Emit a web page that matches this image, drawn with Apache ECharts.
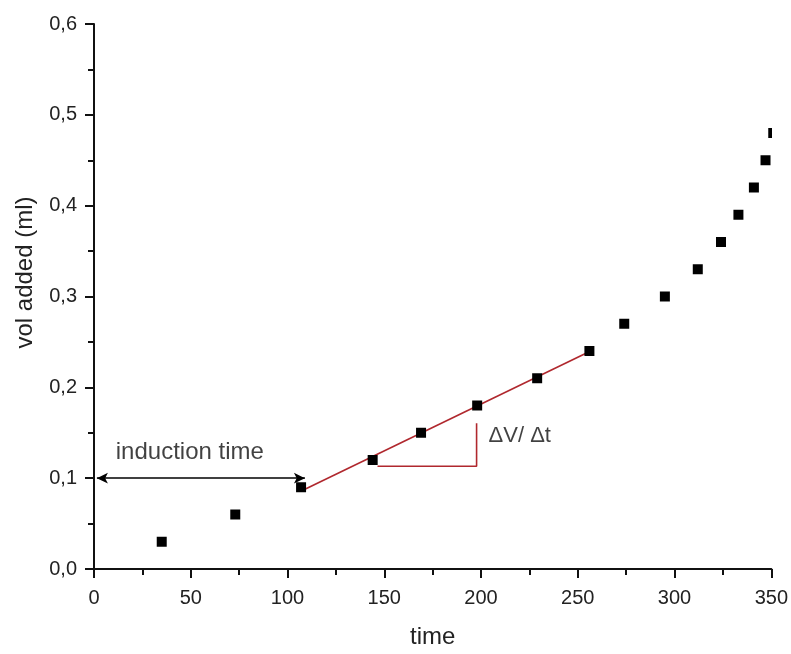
<!DOCTYPE html>
<html><head><meta charset="utf-8">
<script src="https://cdn.jsdelivr.net/npm/echarts@6/dist/echarts.min.js"></script>
<style>html,body{margin:0;padding:0;background:#fff}#c{width:791px;height:654px}</style>
</head><body><div id="c"></div>
<script>
// measured points
const timeVals = [35, 73, 107, 144, 169, 198, 229, 256, 274, 295, 312, 324, 333, 341, 347, 351];
const volVals  = [0.03, 0.06, 0.09, 0.12, 0.15, 0.18, 0.21, 0.24, 0.27, 0.30, 0.33, 0.36, 0.39, 0.42, 0.45, 0.48];
// fitted slope line (red)
const fitLine = [[109, 0.0877], [258, 0.2414]];
// slope triangle (red)
const slopeTriangle = [[146.5, 0.1131], [197.7, 0.1131], [197.7, 0.1604]];
// induction time double arrow
const inductionArrow = [[1.5, 0.1], [109, 0.1]];
// annotation texts
const annotationTexts = ['induction time', 'ΔV/ Δt'];
// axis tick labels
const xTicks = [0, 50, 100, 150, 200, 250, 300, 350];
const yTicks = ['0,0', '0,1', '0,2', '0,3', '0,4', '0,5', '0,6'];

const font = '"Liberation Sans", Arial, Helvetica, sans-serif';
const red = '#b0282e';
const points = timeVals.map((t, i) => [t, volVals[i]]);

const chart = echarts.init(document.getElementById('c'), null, {renderer: 'canvas'});
const axisCommon = {
  type: 'value',
  nameLocation: 'middle',
  nameTextStyle: {fontFamily: font, fontSize: 24, color: '#222'},
  axisLine: {show: true, onZero: false, lineStyle: {color: '#111', width: 2}},
  axisTick: {show: true, inside: false, length: 9, lineStyle: {color: '#111', width: 2}},
  minorTick: {show: true, splitNumber: 2, length: 6, lineStyle: {color: '#111', width: 2}},
  splitLine: {show: false},
  minorSplitLine: {show: false}
};
const option = {
  animation: false,
  backgroundColor: '#fff',
  grid: {left: 94, right: 19, top: 24, bottom: 79.5, containLabel: false},
  xAxis: Object.assign({}, axisCommon, {
    min: 0, max: 350, interval: 50,
    name: 'time', nameGap: 56,
    axisLabel: {margin: 19, fontFamily: font, fontSize: 20, color: '#222',
      formatter: v => { const i = xTicks.indexOf(v); return i >= 0 ? String(xTicks[i]) : ''; }}
  }),
  yAxis: Object.assign({}, axisCommon, {
    min: 0, max: 0.6, interval: 0.1,
    name: 'vol added (ml)', nameGap: 57,
    nameTextStyle: {fontFamily: font, fontSize: 24, color: '#222', padding: [0, 0, 0, 48]},
    axisLabel: {margin: 17, fontFamily: font, fontSize: 20, color: '#222',
      formatter: v => yTicks[Math.round(v * 10)] || ''}
  }),
  series: [
    {
      type: 'line', data: fitLine, symbol: 'none', silent: true, z: 2,
      lineStyle: {color: red, width: 1.6}
    },
    {
      type: 'line', data: slopeTriangle, symbol: 'none', silent: true, z: 2,
      lineStyle: {color: red, width: 1.6}
    },
    {
      type: 'line', data: [], symbol: 'none', silent: true, z: 2,
      markLine: {
        silent: true, symbol: ['arrow', 'arrow'], symbolSize: [8, 11],
        label: {show: false},
        lineStyle: {color: '#000', width: 1.6, type: 'solid'},
        itemStyle: {color: '#000'},
        emphasis: {disabled: true},
        data: [[{coord: inductionArrow[0]}, {coord: inductionArrow[1]}]]
      }
    },
    {
      type: 'scatter', symbolSize: 0, silent: true, z: 3,
      label: {show: true, position: 'inside', fontFamily: font, fontSize: 24, color: '#111'},
      data: [
        {value: [49.5, 0.128], label: {formatter: annotationTexts[0]}},
        {value: [220, 0.1466], label: {formatter: annotationTexts[1], fontSize: 22}}
      ]
    },
    {
      type: 'custom', clip: true, z: 5, silent: true,
      data: points,
      encode: {x: 0, y: 1},
      renderItem: function (params, api) {
        const p = api.coord([api.value(0), api.value(1)]);
        return {type: 'rect', shape: {x: p[0] - 5, y: p[1] - 5, width: 10, height: 10}, style: {fill: '#000'}};
      }
    }
  ]
};
chart.setOption(option);
</script>
</body></html>
